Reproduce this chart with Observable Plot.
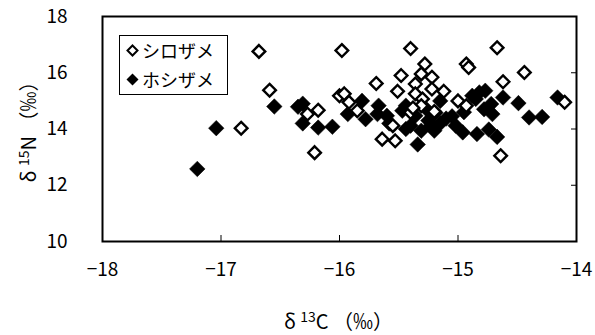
<!DOCTYPE html>
<html><head><meta charset="utf-8">
<script src="https://cdn.jsdelivr.net/npm/d3@7"></script>
<script src="https://cdn.jsdelivr.net/npm/@observablehq/plot@0.6"></script>
<style>
html,body{margin:0;padding:0;background:#fff;}
#wrap{position:relative;width:595px;height:335px;font-family:"Noto Sans CJK JP","Liberation Sans",sans-serif;color:#000;}
#legend{position:absolute;left:119px;top:35px;width:109px;height:60px;border:1px solid #000;background:#fff;box-sizing:border-box;font-size:18px;line-height:29px;padding-left:6px;padding-top:0px;}
#legend div{display:flex;align-items:center;height:29px;}
#legend svg{margin-right:3px;}
#xlab{position:absolute;left:0;width:595px;text-align:center;top:306px;font-size:20px;padding-left:82px;box-sizing:border-box;}
#ylab{position:absolute;left:27px;top:127px;transform:translate(-50%,-50%) rotate(-90deg);white-space:nowrap;font-size:20px;}
sup{font-size:14px;vertical-align:7px;line-height:0;}
</style></head>
<body>
<div id="wrap"></div>
<script>
// シロザメ (open diamonds)
const shiroX = [-16.83,-16.68,-16.59,-16.27,-16.18,-16.21,-16.00,-15.98,-15.96,-15.92,-15.85,-15.69,-15.55,-15.64,-15.53,-15.48,-15.51,-15.40,-15.28,-15.31,-15.22,-15.36,-15.22,-15.12,-15.36,-15.30,-15.00,-14.93,-14.93,-14.91,-14.67,-14.44,-14.62,-14.64,-14.10,-15.31,-15.40,-15.20,-15.38];
const shiroY = [14.03,16.76,15.38,14.53,14.67,13.16,15.18,16.79,15.25,14.95,14.65,15.62,14.12,13.64,13.58,15.90,15.34,16.86,16.31,15.96,15.84,15.60,15.42,15.34,15.25,15.07,15.00,14.83,16.31,16.19,16.89,16.01,15.68,13.05,14.95,14.83,14.59,14.62,14.75];
// ホシザメ (filled diamonds)
const hoshiX = [-17.04,-17.20,-16.55,-16.35,-16.31,-16.31,-16.18,-16.06,-15.81,-15.93,-15.78,-15.67,-15.68,-15.60,-15.47,-15.44,-15.44,-15.36,-15.27,-15.19,-15.15,-15.10,-15.02,-15.23,-15.31,-15.40,-15.34,-15.20,-14.96,-14.84,-14.74,-14.67,-14.88,-14.82,-14.77,-14.85,-14.72,-14.62,-14.71,-14.49,-14.40,-14.29,-14.16,-15.58,-15.25,-15.15,-15.05,-14.95,-14.78];
const hoshiY = [14.03,12.58,14.80,14.79,14.90,14.20,14.05,14.08,15.00,14.53,14.35,14.83,14.53,14.47,14.65,14.00,14.83,14.47,14.72,14.58,15.00,14.37,14.12,14.12,13.94,14.12,13.45,13.94,13.88,13.82,13.98,13.72,15.18,15.30,15.36,15.07,14.89,15.12,14.53,14.92,14.41,14.43,15.12,14.20,14.30,14.20,14.45,14.60,14.70];
const xTicks = [-18,-17,-16,-15,-14];
const yTicks = [10,12,14,16,18];
const xInner = [-17,-16,-15];
const yInner = [12,14,16];
const seriesNames = ["シロザメ","ホシザメ"];

const shiro = shiroX.map((x,i)=>({x, y: shiroY[i]}));
const hoshi = hoshiX.map((x,i)=>({x, y: hoshiY[i]}));

const chart = Plot.plot({
  width: 595, height: 335,
  marginLeft: 102, marginRight: 19, marginTop: 16, marginBottom: 94,
  style: {fontFamily: "'Noto Sans CJK JP','Liberation Sans',sans-serif", fontSize: "19px", background: "white", color: "black"},
  x: {domain: [-18,-14]},
  y: {domain: [10,18]},
  marks: [
    Plot.axisX({ticks: xTicks, tickSize: 0, tickPadding: 21, label: null, fontSize: 19, fill: "black", tickFormat: d => d3.format("d")(d)}),
    Plot.axisY({ticks: yTicks, tickSize: 0, tickPadding: 35, label: null, fontSize: 19, fill: "black"}),
    Plot.axisX({ticks: xInner, tickSize: 6, dy: -6, text: null, label: null, stroke: "black"}),
    Plot.axisY({anchor: "right", ticks: yInner, tickSize: 6, dx: -6, text: null, label: null, stroke: "black"}),
    Plot.dot(hoshi, {x: "x", y: "y", symbol: "diamond2", r: 7, fill: "black", stroke: "black", strokeWidth: 0.5}),
    Plot.dot(shiro, {x: "x", y: "y", symbol: "diamond2", r: 5.7, fill: "white", stroke: "black", strokeWidth: 2.4}),
    Plot.frame({stroke: "black", strokeWidth: 2})
  ]
});
const wrap = document.getElementById("wrap");
wrap.appendChild(chart);

const legend = document.createElement("div");
legend.id = "legend";
legend.innerHTML =
  `<div><svg width="13" height="13" viewBox="-6.5 -6.5 13 13"><path d="M0,-5L5,0L0,5L-5,0Z" fill="white" stroke="black" stroke-width="2"/></svg>${seriesNames[0]}</div>` +
  `<div><svg width="13" height="13" viewBox="-6.5 -6.5 13 13"><path d="M0,-6L6,0L0,6L-6,0Z" fill="black"/></svg>${seriesNames[1]}</div>`;
wrap.appendChild(legend);

const xl = document.createElement("div");
xl.id = "xlab";
xl.innerHTML = "δ <sup>13</sup>C （‰）";
wrap.appendChild(xl);
const yl = document.createElement("div");
yl.id = "ylab";
yl.innerHTML = "δ <sup>15</sup>N （‰）";
wrap.appendChild(yl);
</script>
</body></html>
